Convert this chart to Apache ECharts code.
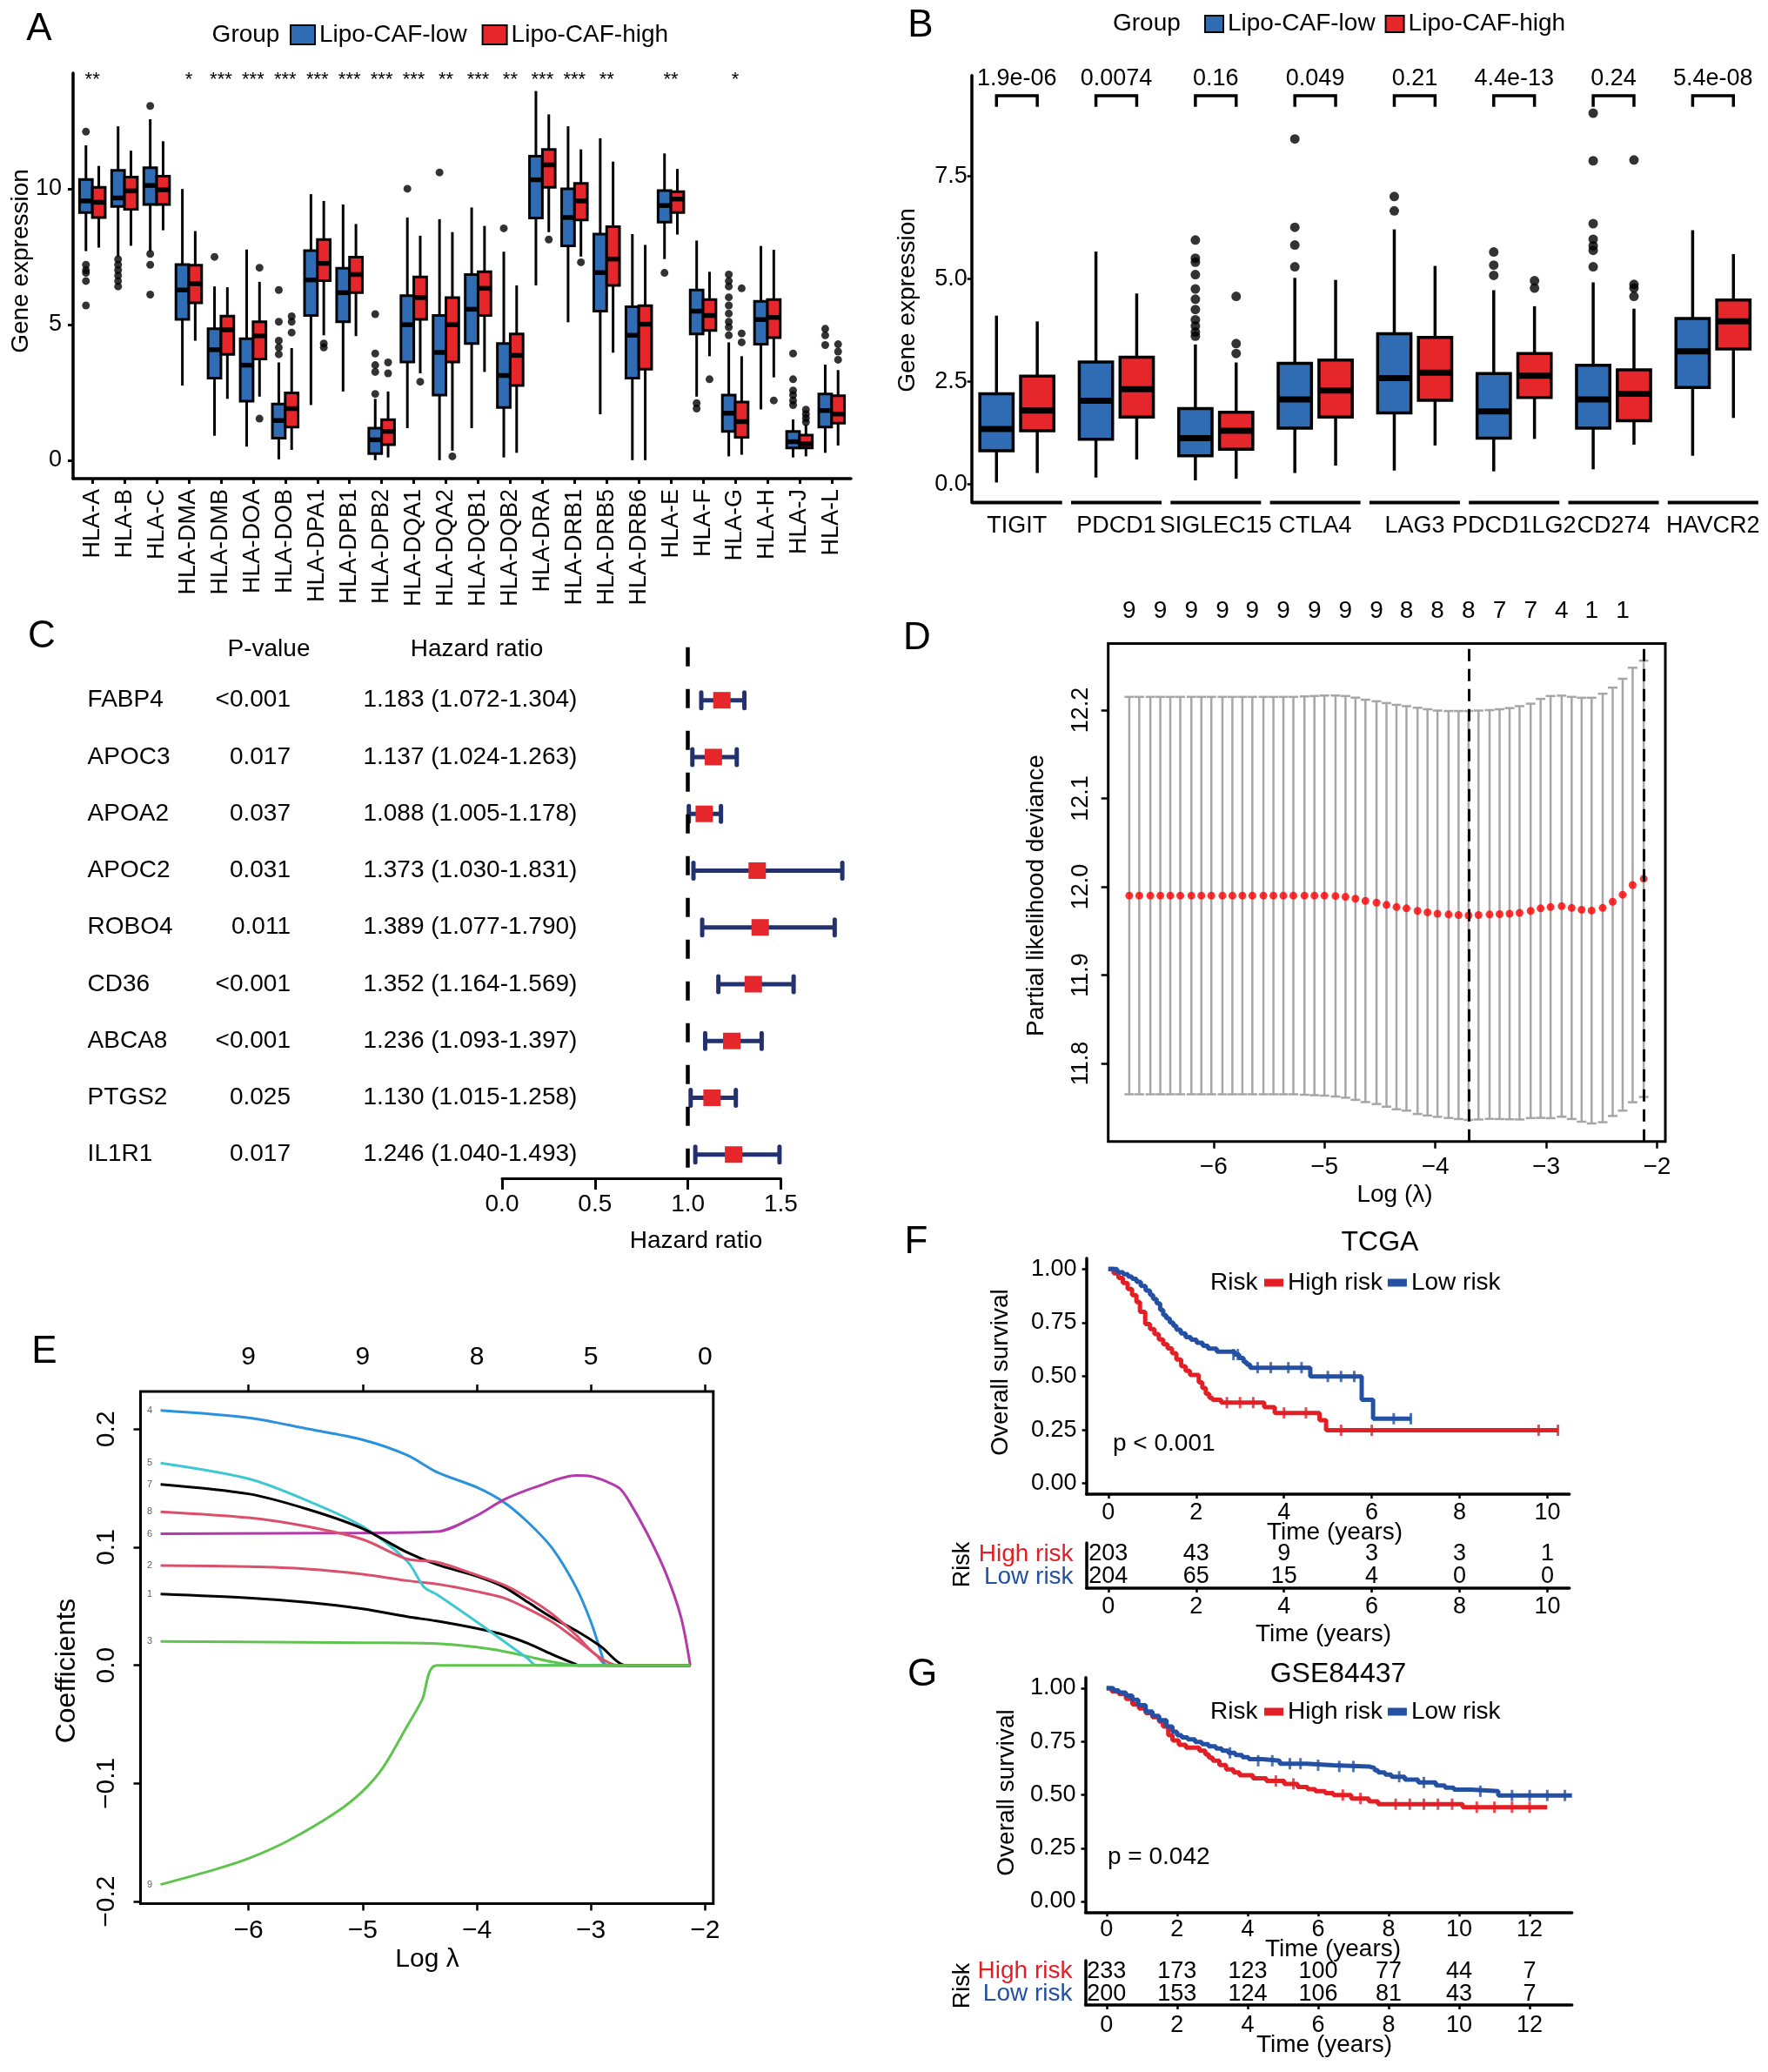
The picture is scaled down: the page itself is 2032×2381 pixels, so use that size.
<!DOCTYPE html>
<html>
<head>
<meta charset="utf-8">
<script src="https://cdn.jsdelivr.net/npm/echarts@6/dist/echarts.min.js"></script>
<style>
  html, body { margin: 0; padding: 0; background: #fff; }
  #chart { width: 2032px; height: 2381px; }
</style>
</head>
<body>
<div id="chart"></div>
<script>
// ---------- A: HLA gene expression ----------
const hlaGenes = ['HLA-A', 'HLA-B', 'HLA-C', 'HLA-DMA', 'HLA-DMB', 'HLA-DOA', 'HLA-DOB', 'HLA-DPA1',
  'HLA-DPB1', 'HLA-DPB2', 'HLA-DQA1', 'HLA-DQA2', 'HLA-DQB1', 'HLA-DQB2', 'HLA-DRA', 'HLA-DRB1',
  'HLA-DRB5', 'HLA-DRB6', 'HLA-E', 'HLA-F', 'HLA-G', 'HLA-H', 'HLA-J', 'HLA-L'];
// [lower whisker, Q1, median, Q3, upper whisker]
const hlaLow = [
  [7.7, 9.12, 9.55, 10.34, 11.6], [7.5, 9.35, 9.66, 10.68, 12.3], [7.7, 9.42, 10.12, 10.77, 12.56],
  [2.75, 5.19, 6.27, 7.21, 9.99], [0.9, 3.02, 4.07, 4.84, 6.4], [0.5, 2.17, 3.5, 4.47, 7.76],
  [0.03, 0.81, 1.46, 2.07, 3.6], [2.03, 5.33, 6.64, 7.72, 9.8], [2.53, 5.1, 6.17, 7.07, 9.42],
  [0.0, 0.24, 0.75, 1.18, 2.26], [1.18, 3.62, 4.99, 6.06, 8.94], [0.0, 2.4, 3.97, 5.33, 8.88],
  [1.18, 4.3, 5.56, 6.84, 9.31], [0.1, 1.94, 3.12, 4.3, 7.68], [6.44, 8.92, 10.33, 11.2, 13.6],
  [5.08, 7.9, 8.94, 10.0, 12.3], [1.69, 5.49, 6.91, 8.33, 11.86], [0.0, 3.02, 4.6, 5.65, 8.33],
  [7.41, 8.77, 9.38, 9.93, 11.3], [2.34, 4.65, 5.49, 6.27, 8.09], [0.14, 1.06, 1.73, 2.4, 4.34],
  [1.87, 4.27, 5.18, 5.85, 7.89], [0.1, 0.45, 0.68, 1.06, 1.5], [0.27, 1.22, 1.83, 2.44, 3.52]
];
const hlaHigh = [
  [7.83, 8.94, 9.5, 10.05, 10.84], [7.9, 9.24, 9.92, 10.43, 11.4], [8.47, 9.42, 9.96, 10.46, 11.75],
  [4.4, 5.8, 6.5, 7.18, 8.44], [2.26, 3.9, 4.8, 5.31, 6.37], [2.34, 3.73, 4.58, 5.1, 6.57],
  [0.38, 1.22, 1.9, 2.48, 4.13], [4.6, 6.61, 7.25, 8.13, 9.55], [4.57, 6.17, 6.84, 7.48, 8.7],
  [0.1, 0.57, 1.06, 1.49, 2.53], [3.2, 5.19, 5.99, 6.75, 8.27], [0.35, 3.62, 4.99, 5.99, 8.4],
  [3.25, 5.33, 6.33, 6.94, 8.63], [0.27, 2.75, 3.86, 4.65, 6.44], [8.4, 10.05, 10.88, 11.45, 12.74],
  [7.5, 8.85, 9.55, 10.2, 11.45], [3.96, 6.44, 7.41, 8.6, 11.0], [0.0, 3.35, 5.01, 5.69, 7.93],
  [8.31, 9.12, 9.62, 9.89, 10.73], [3.83, 4.78, 5.33, 5.92, 6.94], [0.2, 0.84, 1.42, 2.14, 3.83],
  [3.05, 4.51, 5.26, 5.92, 7.75], [0.14, 0.45, 0.6, 0.92, 1.3], [0.54, 1.36, 1.7, 2.37, 3.32]
];
const hlaLowOut = [
  [12.1, 7.2, 7.0, 6.9, 6.6, 5.7], [7.4, 7.2, 7.0, 6.8, 6.6, 6.4], [13.05, 7.6, 7.2, 6.1], [], [7.49], [],
  [6.27, 5.1, 4.4, 4.15, 3.9], [], [], [5.38, 3.93, 3.5, 3.25, 2.44], [10.0], [10.6], [], [8.54], [], [],
  [], [], [6.9], [2.1, 1.9], [6.84, 6.6, 6.4, 6.0, 5.7, 5.4, 5.1, 4.9, 4.6], [],
  [3.93, 2.98, 2.57, 2.4, 2.2, 2.03], [4.84, 4.6, 4.24]
];
const hlaHighOut = [
  [], [], [], [], [], [7.09, 1.53], [5.3, 5.1, 4.7], [4.3, 4.15], [], [3.6, 3.2], [2.89], [0.14], [], [],
  [8.13], [7.29], [], [], [], [2.98], [6.33, 4.67, 4.34], [2.2], [1.86, 1.7, 1.55, 1.4], [4.27, 4.0, 3.7]
];
const hlaStars = ['**', '', '', '*', '***', '***', '***', '***', '***', '***', '***', '**', '***', '**',
  '***', '***', '**', '', '**', '', '*', '', '', ''];

// ---------- B: immune checkpoint genes ----------
const icGenes = ['TIGIT', 'PDCD1', 'SIGLEC15', 'CTLA4', 'LAG3', 'PDCD1LG2', 'CD274', 'HAVCR2'];
const icPvalues = ['1.9e-06', '0.0074', '0.16', '0.049', '0.21', '4.4e-13', '0.24', '5.4e-08'];
const icLow = [
  [0.04, 0.81, 1.34, 2.2, 4.1], [0.16, 1.09, 2.03, 2.97, 5.66], [0.09, 0.69, 1.12, 1.84, 3.4],
  [0.27, 1.36, 2.06, 2.94, 5.02], [0.33, 1.73, 2.58, 3.66, 6.2], [0.31, 1.12, 1.77, 2.69, 4.72],
  [0.36, 1.36, 2.06, 2.89, 4.91], [0.69, 2.35, 3.23, 4.03, 6.18]
];
const icHigh = [
  [0.27, 1.3, 1.79, 2.63, 3.96], [0.6, 1.63, 2.31, 3.09, 4.64], [0.13, 0.85, 1.3, 1.75, 2.96],
  [0.45, 1.63, 2.28, 3.02, 4.97], [0.94, 2.04, 2.71, 3.57, 5.31], [1.1, 2.11, 2.64, 3.18, 4.33],
  [0.96, 1.54, 2.2, 2.78, 4.27], [1.61, 3.29, 3.96, 4.48, 5.6]
];
const icLowOut = [
  [], [], [5.94, 5.5, 5.4, 5.1, 4.75, 4.5, 4.25, 4.0, 3.85, 3.7, 3.6], [8.4, 6.25, 5.82, 5.29],
  [7.0, 6.65], [5.65, 5.33, 5.08], [9.03, 7.87, 6.34, 5.96, 5.8, 5.69, 5.29], []
];
const icHighOut = [[], [], [4.57, 3.42, 3.18], [], [], [4.95, 4.77], [7.89, 4.86, 4.77, 4.57], []];

// ---------- C: univariate Cox ----------
const coxGenes = ['FABP4', 'APOC3', 'APOA2', 'APOC2', 'ROBO4', 'CD36', 'ABCA8', 'PTGS2', 'IL1R1'];
const coxP = ['<0.001', '0.017', '0.037', '0.031', '0.011', '<0.001', '<0.001', '0.025', '0.017'];
const coxHR = [1.183, 1.137, 1.088, 1.373, 1.389, 1.352, 1.236, 1.130, 1.246];
const coxLo = [1.072, 1.024, 1.005, 1.030, 1.077, 1.164, 1.093, 1.015, 1.040];
const coxHi = [1.304, 1.263, 1.178, 1.831, 1.790, 1.569, 1.397, 1.258, 1.493];

// ---------- D: LASSO cross-validation ----------
const logLambda = [-6.76, -6.67, -6.57, -6.48, -6.39, -6.30, -6.20, -6.11, -6.02, -5.92,
  -5.83, -5.74, -5.65, -5.55, -5.46, -5.37, -5.28, -5.18, -5.09, -5.00,
  -4.90, -4.81, -4.72, -4.63, -4.53, -4.44, -4.35, -4.26, -4.16, -4.07,
  -3.98, -3.88, -3.79, -3.70, -3.61, -3.51, -3.42, -3.33, -3.24, -3.14,
  -3.05, -2.96, -2.86, -2.77, -2.68, -2.59, -2.49, -2.40, -2.31, -2.22, -2.12];
const cvMean = [11.990, 11.990, 11.990, 11.990, 11.990, 11.990, 11.990, 11.990, 11.990, 11.990,
  11.990, 11.990, 11.990, 11.990, 11.990, 11.990, 11.990, 11.990, 11.990, 11.990,
  11.9895, 11.9886, 11.9864, 11.984, 11.982, 11.9795, 11.977, 11.9755, 11.9727, 11.971,
  11.9695, 11.9686, 11.968, 11.9675, 11.968, 11.9686, 11.969, 11.9695, 11.9705, 11.9727,
  11.9755, 11.977, 11.978, 11.976, 11.974, 11.973, 11.976, 11.983, 11.991, 12.002, 12.009];
const cvSd = [0.225, 0.225, 0.225, 0.225, 0.225, 0.225, 0.225, 0.225, 0.225, 0.225,
  0.225, 0.225, 0.225, 0.225, 0.225, 0.225, 0.225, 0.2255, 0.226, 0.2265,
  0.227, 0.2274, 0.2277, 0.2278, 0.228, 0.2285, 0.229, 0.229, 0.230, 0.230,
  0.230, 0.2304, 0.231, 0.2315, 0.2315, 0.2314, 0.232, 0.2328, 0.234, 0.2346,
  0.2372, 0.239, 0.2384, 0.239, 0.240, 0.241, 0.2426, 0.2425, 0.2445, 0.246, 0.247];
const nzeroLabels = ['9', '9', '9', '9', '9', '9', '9', '9', '9', '8', '8', '8', '7', '7', '4', '1', '1'];
const lambdaMinLog = -3.70;
const lambda1seLog = -2.12;

// ---------- E: coefficient paths ----------
const coef1 = [[-6.77, 0.0603], [-6, 0.057], [-5.49, 0.0533], [-5, 0.0478], [-4.61, 0.0412], [-4.35, 0.0375],
  [-4, 0.0312], [-3.76, 0.0257], [-3.55, 0.0184], [-3.34, 0.0092], [-3.13, 0.0007], [-3.11, 0], [-2.13, 0]];
const coef2 = [[-6.77, 0.0846], [-6, 0.0835], [-5.49, 0.0816], [-5, 0.0772], [-4.61, 0.0717], [-4.35, 0.0688],
  [-4, 0.0625], [-3.76, 0.057], [-3.55, 0.0478], [-3.34, 0.0368], [-3.13, 0.022], [-2.96, 0.0092], [-2.85, 0], [-2.13, 0]];
const coef3 = [[-6.77, 0.0202], [-5, 0.0191], [-4.35, 0.0184], [-4, 0.0154], [-3.76, 0.0118], [-3.55, 0.0074],
  [-3.34, 0.0029], [-3.13, 0], [-2.13, 0]];
const coef4 = [[-6.77, 0.2158], [-6, 0.2096], [-5.49, 0.2004], [-5, 0.191], [-4.61, 0.178], [-4.35, 0.1636],
  [-4, 0.1507], [-3.76, 0.138], [-3.55, 0.121], [-3.34, 0.0993], [-3.13, 0.066], [-3, 0.0368], [-2.9, 0.0074],
  [-2.87, 0], [-2.13, 0]];
const coef5 = [[-6.77, 0.1713], [-6, 0.158], [-5.49, 0.1397], [-5, 0.1176], [-4.61, 0.0882], [-4.46, 0.066],
  [-4.35, 0.060], [-4, 0.0368], [-3.76, 0.0202], [-3.55, 0.0055], [-3.48, 0], [-2.13, 0]];
const coef6 = [[-6.77, 0.1114], [-5, 0.1121], [-4.35, 0.1132], [-4, 0.1268], [-3.76, 0.1404], [-3.47, 0.1515],
  [-3.13, 0.1607], [-3.0, 0.16], [-2.86, 0.1555], [-2.75, 0.15], [-2.67, 0.1397], [-2.5, 0.1103],
  [-2.34, 0.0772], [-2.21, 0.0404], [-2.13, 0]];
const coef7 = [[-6.77, 0.1533], [-6, 0.1452], [-5.49, 0.1324], [-5, 0.1158], [-4.61, 0.0956], [-4.35, 0.0853],
  [-4, 0.0754], [-3.76, 0.0662], [-3.55, 0.0533], [-3.34, 0.0404], [-3.13, 0.0294], [-2.92, 0.0165],
  [-2.69, 0], [-2.13, 0]];
const coef8 = [[-6.77, 0.1301], [-6, 0.125], [-5.49, 0.1176], [-5, 0.1066], [-4.61, 0.090], [-4.35, 0.0875],
  [-4, 0.0765], [-3.76, 0.068], [-3.55, 0.057], [-3.34, 0.0434], [-3.13, 0.0257], [-2.96, 0.0092],
  [-2.76, 0], [-2.13, 0]];
const coef9 = [[-6.77, -0.1857], [-6.29, -0.1728], [-6, -0.1636], [-5.66, -0.1489], [-5.24, -0.125],
  [-5, -0.1066], [-4.82, -0.0864], [-4.61, -0.0515], [-4.48, -0.0294], [-4.35, 0], [-2.13, 0]];
const coefTopLabels = ['9', '9', '8', '5', '0'];

// ---------- F: TCGA survival ----------
const kmTcgaHigh = [[0, 1.0], [0.12, 0.98], [0.23, 0.959], [0.33, 0.935], [0.44, 0.907], [0.54, 0.878],
  [0.64, 0.846], [0.72, 0.80], [0.84, 0.744], [0.95, 0.72], [1.05, 0.697], [1.15, 0.672], [1.25, 0.649],
  [1.35, 0.63], [1.45, 0.608], [1.55, 0.578], [1.66, 0.547], [1.76, 0.525], [1.86, 0.506], [2.06, 0.472],
  [2.14, 0.445], [2.22, 0.418], [2.30, 0.40], [2.37, 0.39], [2.57, 0.377], [3.55, 0.356], [3.79, 0.329],
  [4.81, 0.295], [4.96, 0.248], [10.24, 0.248]];
const kmTcgaLow = [[0, 1.0], [0.2, 0.985], [0.34, 0.976], [0.45, 0.965], [0.54, 0.955], [0.64, 0.94],
  [0.74, 0.921], [0.85, 0.9], [0.95, 0.88], [1.02, 0.86], [1.10, 0.84], [1.18, 0.81], [1.25, 0.785],
  [1.32, 0.77], [1.40, 0.751], [1.48, 0.735], [1.55, 0.717], [1.65, 0.70], [1.76, 0.683], [1.88, 0.67],
  [2.01, 0.656], [2.15, 0.642], [2.27, 0.629], [2.47, 0.615], [2.88, 0.601], [2.98, 0.585], [3.08, 0.567],
  [3.15, 0.555], [3.23, 0.54], [4.6, 0.499], [5.77, 0.39], [6.03, 0.302], [6.89, 0.302]];
const censorTcgaHigh = [[2.7, 0.377], [3.0, 0.377], [3.3, 0.377], [4.0, 0.329], [4.5, 0.329], [5.3, 0.248],
  [6.0, 0.248], [9.8, 0.248], [10.24, 0.248]];
const censorTcgaLow = [[2.85, 0.601], [2.95, 0.601], [3.4, 0.54], [3.7, 0.54], [4.1, 0.54], [4.4, 0.54],
  [5.0, 0.499], [5.3, 0.499], [5.6, 0.499], [6.5, 0.302], [6.89, 0.302]];
const riskTimesTcga = [0, 2, 4, 6, 8, 10];
const riskHighTcga = [203, 43, 9, 3, 3, 1];
const riskLowTcga = [204, 65, 15, 4, 0, 0];

// ---------- G: GSE84437 survival ----------
const kmGseHigh = [[0, 1.0], [0.15, 0.985], [0.35, 0.973], [0.55, 0.95], [0.73, 0.925], [0.92, 0.905],
  [1.11, 0.884], [1.3, 0.864], [1.49, 0.844], [1.6, 0.82], [1.75, 0.78], [1.87, 0.755], [2.05, 0.735],
  [2.25, 0.721], [2.63, 0.707], [2.8, 0.69], [2.9, 0.675], [3.01, 0.66], [3.2, 0.64], [3.39, 0.619],
  [3.6, 0.605], [3.77, 0.592], [4.15, 0.578], [4.53, 0.565], [5.04, 0.551], [5.42, 0.537], [5.7, 0.527],
  [5.92, 0.517], [6.2, 0.508], [6.43, 0.499], [6.94, 0.483], [7.44, 0.469], [7.7, 0.456], [10.1, 0.442],
  [12.5, 0.442]];
const kmGseLow = [[0, 1.0], [0.2, 0.99], [0.35, 0.98], [0.55, 0.965], [0.73, 0.946], [0.9, 0.92],
  [1.11, 0.891], [1.3, 0.87], [1.49, 0.85], [1.7, 0.82], [1.87, 0.796], [2.0, 0.78], [2.13, 0.769],
  [2.3, 0.76], [2.51, 0.748], [2.7, 0.738], [2.89, 0.728], [3.1, 0.717], [3.27, 0.707], [3.45, 0.697],
  [3.65, 0.687], [3.85, 0.677], [4.03, 0.667], [4.41, 0.66], [4.91, 0.646], [5.67, 0.639], [6.43, 0.633],
  [7.44, 0.626], [7.6, 0.615], [7.7, 0.605], [7.9, 0.595], [8.08, 0.585], [8.46, 0.571], [8.84, 0.558],
  [9.34, 0.544], [9.6, 0.534], [9.85, 0.524], [10.35, 0.517], [11.11, 0.497], [13.2, 0.497]];
const censorGseHigh = [[4.8, 0.565], [5.3, 0.551], [6.7, 0.499], [7.2, 0.483], [8.2, 0.456], [8.6, 0.456],
  [9.0, 0.456], [9.4, 0.456], [9.8, 0.456], [10.5, 0.442], [11.0, 0.442], [11.5, 0.442], [12.0, 0.442]];
const censorGseLow = [[3.5, 0.697], [4.3, 0.66], [4.7, 0.66], [5.2, 0.646], [5.5, 0.646], [6.0, 0.639],
  [6.6, 0.633], [7.0, 0.633], [8.3, 0.585], [9.0, 0.558], [10.6, 0.517], [11.5, 0.497], [12.0, 0.497],
  [12.5, 0.497], [13.0, 0.497]];
const riskTimesGse = [0, 2, 4, 6, 8, 10, 12];
const riskHighGse = [233, 173, 123, 100, 77, 44, 7];
const riskLowGse = [200, 153, 124, 106, 81, 43, 7];
const riskGroups = ['High risk', 'Low risk'];

// ---------- styling ----------
const FONT = '"Liberation Sans", Arial, Helvetica, sans-serif';
const BOX_BLUE = '#2F6CB4';
const BOX_RED = '#E5262B';
const KM_RED = '#E31E24';
const KM_BLUE = '#2350A3';
const NAVY = '#23316F';
const GLM_COLS = ['#000000', '#DA506A', '#5EC44E', '#2A92DC', '#40C8D2', '#B23AAA'];
const MINUS = '\u2212';

function txt(text, x, y, size, opt) {
  opt = opt || {};
  const align = opt.align || 'center';
  return {
    type: 'text', x: x, y: y, rotation: opt.rot || 0, silent: true,
    style: {
      text: text, fontSize: size, fontFamily: FONT, fill: opt.color || '#000',
      align: align, verticalAlign: 'middle', textAlign: align, textVerticalAlign: 'middle'
    }
  };
}

function textEl(text, x, y, size, align, color) {
  return { type: 'text', x: x, y: y, style: { text: text, fontSize: size, fontFamily: FONT, fill: color || '#000',
    align: align, verticalAlign: 'middle', textAlign: align, textVerticalAlign: 'middle' } };
}

function boxRenderer(offset, width, fill, lw, medLw) {
  return function (params, api) {
    const i = api.value(0);
    const c = v => api.coord([i + offset, v]);
    const lo = c(api.value(1)), q1 = c(api.value(2)), md = c(api.value(3));
    const q3 = c(api.value(4)), hi = c(api.value(5));
    const w = api.size([width, 0])[0];
    const x = md[0];
    return {
      type: 'group', children: [
        { type: 'line', shape: { x1: x, y1: hi[1], x2: x, y2: q3[1] }, style: { stroke: '#000', lineWidth: lw } },
        { type: 'line', shape: { x1: x, y1: q1[1], x2: x, y2: lo[1] }, style: { stroke: '#000', lineWidth: lw } },
        { type: 'rect', shape: { x: x - w / 2, y: q3[1], width: w, height: q1[1] - q3[1] },
          style: { fill: fill, stroke: '#000', lineWidth: lw } },
        { type: 'line', shape: { x1: x - w / 2, y1: md[1], x2: x + w / 2, y2: md[1] },
          style: { stroke: '#000', lineWidth: medLw } }
      ]
    };
  };
}

function outlierPoints(outs, offset) {
  const pts = [];
  outs.forEach((arr, i) => arr.forEach(v => pts.push([i + offset, v])));
  return pts;
}

function minusFmt(digits) {
  return v => (v < 0 ? MINUS : '') + Math.abs(v).toFixed(digits);
}

const blackLine = (w) => ({ show: true, onZero: false, lineStyle: { color: '#000', width: w } });
const noLine = { show: false, onZero: false };
const noSplit = { show: false };

const chart = echarts.init(document.getElementById('chart'));

const hlaIdx = hlaGenes.map((g, i) => i);
const icIdx = icGenes.map((g, i) => i);
const nzeroAt = logLambda.filter((v, i) => i % 3 === 0);

// B layout helpers (in data units)
const icDodge = 0.205;
const bracketTop = 9.456;
const bracketLeg = 9.186;
const pLabelY = 9.86;
const icYMin = -0.447;
const starY = 14.0;

const option = {
  animation: false,
  backgroundColor: '#fff',
  textStyle: { fontFamily: FONT },
  grid: [
    { left: 84, top: 84, width: 894, height: 466 },                 // A
    { left: 1116.7, top: 86.7, width: 888.7, height: 490.7 },       // B
    { left: 577, top: 743.8, width: 320.4, height: 610.2 },         // C
    { left: 1273.7, top: 739.4, width: 640.3, height: 572.3, show: true, borderColor: '#000', borderWidth: 3 }, // D
    { left: 161.5, top: 1599, width: 658.3, height: 588.5, show: true, borderColor: '#000', borderWidth: 3 },   // E
    { left: 1248.6, top: 1446, width: 555.1, height: 271 },         // F
    { left: 1248.6, top: 1773, width: 555.1, height: 52 },          // F table
    { left: 1247.5, top: 1927.75, width: 559.2, height: 269.5 },    // G
    { left: 1247.5, top: 2253, width: 559.2, height: 51 }           // G table
  ],
  xAxis: [
    { gridIndex: 0, type: 'value', min: -0.6, max: 23.6, axisLine: blackLine(3.5), splitLine: noSplit,
      axisTick: { show: true, customValues: hlaIdx, length: 6, lineStyle: { color: '#000', width: 3 } },
      axisLabel: { customValues: hlaIdx, rotate: 90, margin: 12, fontSize: 27, color: '#000',
        formatter: v => hlaGenes[Math.round(v)] } },
    { gridIndex: 1, type: 'value', min: -0.455, max: 7.32, axisLine: noLine, splitLine: noSplit,
      axisTick: { show: false },
      axisLabel: { customValues: icIdx, margin: 14, fontSize: 27, color: '#000',
        formatter: v => icGenes[Math.round(v)] } },
    { gridIndex: 2, type: 'value', min: 0, max: 1.5, interval: 0.5, axisLine: blackLine(3), splitLine: noSplit,
      axisTick: { show: true, length: 13, lineStyle: { color: '#000', width: 3 } },
      axisLabel: { margin: 16, fontSize: 28, color: '#000', formatter: v => v.toFixed(1) } },
    { gridIndex: 3, type: 'value', position: 'bottom', min: -6.95, max: -1.925, axisLine: noLine,
      splitLine: noSplit,
      axisTick: { show: true, customValues: [-6, -5, -4, -3, -2], length: 8, lineStyle: { color: '#000', width: 2.5 } },
      axisLabel: { customValues: [-6, -5, -4, -3, -2], margin: 16, fontSize: 28, color: '#000', formatter: minusFmt(0) } },
    { gridIndex: 3, type: 'value', position: 'top', min: -6.95, max: -1.925, axisLine: noLine,
      splitLine: noSplit, axisTick: { show: false },
      axisLabel: { customValues: nzeroAt, margin: 23, fontSize: 28, color: '#000',
        formatter: v => nzeroLabels[nzeroAt.findIndex(a => Math.abs(a - v) < 1e-6)] } },
    { gridIndex: 4, type: 'value', position: 'bottom', min: -6.946, max: -1.928, axisLine: noLine,
      splitLine: noSplit,
      axisTick: { show: true, customValues: [-6, -5, -4, -3, -2], length: 8, lineStyle: { color: '#000', width: 2.5 } },
      axisLabel: { customValues: [-6, -5, -4, -3, -2], margin: 16, fontSize: 30, color: '#000', formatter: minusFmt(0) } },
    { gridIndex: 4, type: 'value', position: 'top', min: -6.946, max: -1.928, axisLine: noLine,
      splitLine: noSplit,
      axisTick: { show: true, customValues: [-6, -5, -4, -3, -2], length: 8, lineStyle: { color: '#000', width: 2.5 } },
      axisLabel: { customValues: [-6, -5, -4, -3, -2], margin: 24, fontSize: 30, color: '#000',
        formatter: v => coefTopLabels[Math.round(v) + 6] } },
    { gridIndex: 5, type: 'value', min: -0.5, max: 10.5, axisLine: blackLine(3.5), splitLine: noSplit,
      axisTick: { show: true, customValues: riskTimesTcga, length: 5, lineStyle: { color: '#000', width: 2.5 } },
      axisLabel: { customValues: riskTimesTcga, margin: 8, fontSize: 27, color: '#000' } },
    { gridIndex: 6, type: 'value', min: -0.5, max: 10.5, axisLine: blackLine(3.5), splitLine: noSplit,
      axisTick: { show: true, customValues: riskTimesTcga, length: 5, lineStyle: { color: '#000', width: 2.5 } },
      axisLabel: { customValues: riskTimesTcga, margin: 8, fontSize: 27, color: '#000' } },
    { gridIndex: 7, type: 'value', min: -0.6, max: 13.2, axisLine: blackLine(3.5), splitLine: noSplit,
      axisTick: { show: true, customValues: riskTimesGse, length: 5, lineStyle: { color: '#000', width: 2.5 } },
      axisLabel: { customValues: riskTimesGse, margin: 7, fontSize: 27, color: '#000' } },
    { gridIndex: 8, type: 'value', min: -0.6, max: 13.2, axisLine: blackLine(3.5), splitLine: noSplit,
      axisTick: { show: true, customValues: riskTimesGse, length: 5, lineStyle: { color: '#000', width: 2.5 } },
      axisLabel: { customValues: riskTimesGse, margin: 10, fontSize: 27, color: '#000' } }
  ],
  yAxis: [
    { gridIndex: 0, type: 'value', min: -0.68, max: 14.26, axisLine: blackLine(3.5), splitLine: noSplit,
      axisTick: { show: true, customValues: [0, 5, 10], length: 6, lineStyle: { color: '#000', width: 3 } },
      axisLabel: { customValues: [0, 5, 10], margin: 13, fontSize: 27, color: '#000' } },
    { gridIndex: 1, type: 'value', min: icYMin, max: 9.947, axisLine: blackLine(3.5), splitLine: noSplit,
      axisTick: { show: true, customValues: [0, 2.5, 5, 7.5], length: 5, lineStyle: { color: '#000', width: 2.5 } },
      axisLabel: { customValues: [0, 2.5, 5, 7.5], margin: 5, fontSize: 27, color: '#000', formatter: v => v.toFixed(1) } },
    { gridIndex: 2, type: 'value', min: -0.933, max: 8.418, inverse: true, show: false, axisLine: noLine },
    { gridIndex: 3, type: 'value', min: 11.7116, max: 12.2755, axisLine: noLine, splitLine: noSplit,
      axisTick: { show: true, customValues: [11.8, 11.9, 12.0, 12.1, 12.2], length: 8, lineStyle: { color: '#000', width: 2.5 } },
      axisLabel: { customValues: [11.8, 11.9, 12.0, 12.1, 12.2], rotate: 90, margin: 18, fontSize: 27, color: '#000',
        formatter: v => v.toFixed(1) } },
    { gridIndex: 4, type: 'value', min: -0.2018, max: 0.2319, axisLine: noLine, splitLine: noSplit,
      axisTick: { show: true, customValues: [-0.2, -0.1, 0, 0.1, 0.2], length: 8, lineStyle: { color: '#000', width: 2.5 } },
      axisLabel: { customValues: [-0.2, -0.1, 0, 0.1, 0.2], rotate: 90, margin: 24, fontSize: 30, color: '#000',
        formatter: minusFmt(1) } },
    { gridIndex: 5, type: 'value', min: -0.05, max: 1.05, axisLine: blackLine(3.5), splitLine: noSplit,
      axisTick: { show: true, customValues: [0, 0.25, 0.5, 0.75, 1], length: 5, lineStyle: { color: '#000', width: 2.5 } },
      axisLabel: { customValues: [0, 0.25, 0.5, 0.75, 1], margin: 11, fontSize: 27, color: '#000', formatter: v => v.toFixed(2) } },
    { gridIndex: 6, type: 'value', min: -0.5, max: 1.5, inverse: true, axisLine: blackLine(3.5), splitLine: noSplit,
      axisTick: { show: false }, axisLabel: { show: false } },
    { gridIndex: 7, type: 'value', min: -0.05, max: 1.05, axisLine: blackLine(3.5), splitLine: noSplit,
      axisTick: { show: true, customValues: [0, 0.25, 0.5, 0.75, 1], length: 5, lineStyle: { color: '#000', width: 2.5 } },
      axisLabel: { customValues: [0, 0.25, 0.5, 0.75, 1], margin: 11, fontSize: 27, color: '#000', formatter: v => v.toFixed(2) } },
    { gridIndex: 8, type: 'value', min: -0.5, max: 1.5, inverse: true, axisLine: blackLine(3.5), splitLine: noSplit,
      axisTick: { show: false }, axisLabel: { show: false } }
  ],
  legend: [
    { left: 333, top: 26, padding: 0, itemWidth: 28, itemHeight: 22, itemGap: 17, selectedMode: false,
      icon: 'rect', itemStyle: { borderColor: '#000', borderWidth: 2 },
      textStyle: { fontSize: 28, color: '#000', fontFamily: FONT },
      data: ['Lipo-CAF-low', 'Lipo-CAF-high'] },
    { left: 1384, top: 13.5, padding: 0, itemWidth: 21, itemHeight: 19, itemGap: 11, selectedMode: false,
      icon: 'rect', itemStyle: { borderColor: '#000', borderWidth: 2 },
      textStyle: { fontSize: 28, color: '#000', fontFamily: FONT },
      data: ['Lipo-CAF-low', 'Lipo-CAF-high'] },
    { left: 1453, top: 1460, padding: 0, itemWidth: 22, itemHeight: 9, itemGap: 6, selectedMode: false,
      icon: 'rect', textStyle: { fontSize: 28, color: '#000', fontFamily: FONT },
      data: riskGroups },
    { left: 1453, top: 1953, padding: 0, itemWidth: 22, itemHeight: 9, itemGap: 6, selectedMode: false,
      icon: 'rect', textStyle: { fontSize: 28, color: '#000', fontFamily: FONT },
      data: riskGroups }
  ],
  series: []
};

const S = option.series;

// ----- A -----
S.push({ type: 'custom', name: 'Lipo-CAF-low', xAxisIndex: 0, yAxisIndex: 0, itemStyle: { color: BOX_BLUE },
  renderItem: boxRenderer(-0.2, 0.4, BOX_BLUE, 3, 5.5), data: hlaLow.map((d, i) => [i].concat(d)),
  encode: { x: 0, y: [1, 2, 3, 4, 5] } });
S.push({ type: 'custom', name: 'Lipo-CAF-high', xAxisIndex: 0, yAxisIndex: 0, itemStyle: { color: BOX_RED },
  renderItem: boxRenderer(0.2, 0.4, BOX_RED, 3, 5.5), data: hlaHigh.map((d, i) => [i].concat(d)),
  encode: { x: 0, y: [1, 2, 3, 4, 5] } });
S.push({ type: 'scatter', xAxisIndex: 0, yAxisIndex: 0, symbolSize: 9, itemStyle: { color: '#000' },
  data: outlierPoints(hlaLowOut, -0.2).concat(outlierPoints(hlaHighOut, 0.2)), silent: true });
S.push({ type: 'custom', xAxisIndex: 0, yAxisIndex: 0, silent: true, clip: false,
  data: hlaStars.map((s, i) => [i, starY]),
  renderItem: (params, api) => {
    const p = api.coord([api.value(0), api.value(1)]);
    return textEl(hlaStars[params.dataIndex], p[0], p[1], 22, 'center');
  } });

// ----- B -----
S.push({ type: 'custom', name: 'Lipo-CAF-low', xAxisIndex: 1, yAxisIndex: 1, itemStyle: { color: BOX_BLUE },
  renderItem: boxRenderer(-icDodge, 0.335, BOX_BLUE, 3.5, 7), data: icLow.map((d, i) => [i].concat(d)),
  encode: { x: 0, y: [1, 2, 3, 4, 5] } });
S.push({ type: 'custom', name: 'Lipo-CAF-high', xAxisIndex: 1, yAxisIndex: 1, itemStyle: { color: BOX_RED },
  renderItem: boxRenderer(icDodge, 0.335, BOX_RED, 3.5, 7), data: icHigh.map((d, i) => [i].concat(d)),
  encode: { x: 0, y: [1, 2, 3, 4, 5] } });
S.push({ type: 'scatter', xAxisIndex: 1, yAxisIndex: 1, symbolSize: 11, itemStyle: { color: '#000' }, silent: true,
  data: outlierPoints(icLowOut, -icDodge).concat(outlierPoints(icHighOut, icDodge)) });
S.push({ type: 'custom', xAxisIndex: 1, yAxisIndex: 1, silent: true, clip: false,
  data: icIdx.map(i => [i]),
  renderItem: (params, api) => {
    const i = api.value(0);
    const a = api.coord([i - icDodge, bracketLeg]);
    const b = api.coord([i - icDodge, bracketTop]);
    const c = api.coord([i + icDodge, bracketTop]);
    const d = api.coord([i + icDodge, bracketLeg]);
    const t = api.coord([i, pLabelY]);
    const s0 = api.coord([i - 0.455, icYMin]);
    const s1 = api.coord([i + 0.455, icYMin]);
    return { type: 'group', children: [
      { type: 'polyline', shape: { points: [a, b, c, d] }, style: { stroke: '#000', lineWidth: 3.5, fill: null } },
      textEl(icPvalues[params.dataIndex], t[0], t[1], 27, 'center'),
      { type: 'line', shape: { x1: s0[0], y1: s0[1], x2: s1[0], y2: s1[1] }, style: { stroke: '#000', lineWidth: 4 } }
    ] };
  } });

// ----- C -----
S.push({ type: 'custom', xAxisIndex: 2, yAxisIndex: 2, silent: true, clip: false,
  data: coxHR.map((hr, i) => [hr, i, coxLo[i], coxHi[i]]),
  renderItem: (params, api) => {
    const i = params.dataIndex;
    const row = api.value(1);
    const p = api.coord([api.value(0), row]);
    const lo = api.coord([api.value(2), row]);
    const hi = api.coord([api.value(3), row]);
    const y = p[1];
    return { type: 'group', children: [
      { type: 'line', shape: { x1: lo[0], y1: y, x2: hi[0], y2: y }, style: { stroke: NAVY, lineWidth: 5 } },
      { type: 'line', shape: { x1: lo[0], y1: y - 9, x2: lo[0], y2: y + 9 }, style: { stroke: NAVY, lineWidth: 5, lineCap: 'round' } },
      { type: 'line', shape: { x1: hi[0], y1: y - 9, x2: hi[0], y2: y + 9 }, style: { stroke: NAVY, lineWidth: 5, lineCap: 'round' } },
      { type: 'rect', shape: { x: p[0] - 10, y: y - 9.5, width: 20, height: 19 }, style: { fill: '#E5262A' } },
      textEl(coxGenes[i], 100.6, y, 28, 'left'),
      textEl(coxP[i], 334, y, 28, 'right'),
      textEl(coxHR[i].toFixed(3) + ' (' + coxLo[i].toFixed(3) + '-' + coxHi[i].toFixed(3) + ')', 663.4, y, 28, 'right')
    ] };
  },
  markLine: { silent: true, symbol: 'none', label: { show: false },
    lineStyle: { color: '#000', width: 4.5, type: [22, 26] }, data: [{ xAxis: 1 }] } });

// ----- D -----
S.push({ type: 'custom', xAxisIndex: 3, yAxisIndex: 3, silent: true,
  data: logLambda.map((x, i) => [x, cvMean[i], cvSd[i]]),
  renderItem: (params, api) => {
    const x = api.value(0), m = api.value(1), s = api.value(2);
    const top = api.coord([x, m + s]);
    const bot = api.coord([x, m - s]);
    const st = () => ({ stroke: '#A6A6A6', lineWidth: 2.5 });
    return { type: 'group', children: [
      { type: 'line', shape: { x1: top[0], y1: top[1], x2: bot[0], y2: bot[1] }, style: st() },
      { type: 'line', shape: { x1: top[0] - 5.5, y1: top[1], x2: top[0] + 5.5, y2: top[1] }, style: st() },
      { type: 'line', shape: { x1: bot[0] - 5.5, y1: bot[1], x2: bot[0] + 5.5, y2: bot[1] }, style: st() }
    ] };
  } });
S.push({ type: 'scatter', xAxisIndex: 3, yAxisIndex: 3, symbolSize: 9, itemStyle: { color: '#FF0000' }, silent: true,
  data: logLambda.map((x, i) => [x, cvMean[i]]), z: 3,
  markLine: { silent: true, symbol: 'none', label: { show: false },
    lineStyle: { color: '#000', width: 3, type: [14, 9] },
    data: [{ xAxis: lambdaMinLog }, { xAxis: lambda1seLog }] } });

// ----- E -----
const coefPaths = [coef1, coef2, coef3, coef4, coef5, coef6, coef7, coef8, coef9];
coefPaths.forEach((path, k) => {
  S.push({ type: 'line', xAxisIndex: 5, yAxisIndex: 4, data: path, showSymbol: false, smooth: 0.3, silent: true,
    lineStyle: { color: GLM_COLS[k % 6], width: 3 }, itemStyle: { color: GLM_COLS[k % 6] } });
});
S.push({ type: 'scatter', xAxisIndex: 5, yAxisIndex: 4, symbolSize: 1, itemStyle: { color: 'rgba(0,0,0,0)' }, silent: true,
  data: coefPaths.map((p, k) => [p[0][0], p[0][1], String(k + 1)]),
  label: { show: true, position: 'left', distance: 9, fontSize: 11, color: '#333', fontFamily: FONT,
    formatter: p => p.value[2] } });

// ----- F / G -----
function kmSeries(xi, yi, name, data, color) {
  return { type: 'line', name: name, xAxisIndex: xi, yAxisIndex: yi, data: data, step: 'end', showSymbol: false,
    silent: true, lineStyle: { color: color, width: 5 }, itemStyle: { color: color } };
}
function censorSeries(xi, yi, data, color) {
  return { type: 'scatter', xAxisIndex: xi, yAxisIndex: yi, data: data, symbol: 'rect', symbolSize: [3, 13],
    silent: true, itemStyle: { color: color } };
}
function riskTable(xi, yi, times, high, low, xMin) {
  const rows = times.map((t, i) => [t, 0, high[i]]).concat(times.map((t, i) => [t, 1, low[i]]));
  const groupRows = riskGroups.map((g, r) => [xMin, r, -1]);
  return { type: 'custom', xAxisIndex: xi, yAxisIndex: yi, silent: true, clip: false, data: rows.concat(groupRows),
    renderItem: (params, api) => {
      const p = api.coord([api.value(0), api.value(1)]);
      if (api.value(2) < 0) {
        const r = api.value(1);
        return textEl(riskGroups[r], p[0] - 15, p[1], 28, 'right', r === 0 ? KM_RED : KM_BLUE);
      }
      return textEl(String(api.value(2)), p[0], p[1], 27, 'center');
    } };
}
S.push(kmSeries(7, 5, 'High risk', kmTcgaHigh, KM_RED));
S.push(kmSeries(7, 5, 'Low risk', kmTcgaLow, KM_BLUE));
S.push(censorSeries(7, 5, censorTcgaHigh, KM_RED));
S.push(censorSeries(7, 5, censorTcgaLow, KM_BLUE));
S.push(riskTable(8, 6, riskTimesTcga, riskHighTcga, riskLowTcga, -0.5));
S.push(kmSeries(9, 7, 'High risk', kmGseHigh, KM_RED));
S.push(kmSeries(9, 7, 'Low risk', kmGseLow, KM_BLUE));
S.push(censorSeries(9, 7, censorGseHigh, KM_RED));
S.push(censorSeries(9, 7, censorGseLow, KM_BLUE));
S.push(riskTable(10, 8, riskTimesGse, riskHighGse, riskLowGse, -0.6));

// ----- static text: panel letters, titles, axis titles -----
const R90 = Math.PI / 2;
option.graphic = { elements: [
  txt('A', 45, 34, 44), txt('B', 1058, 30, 44), txt('C', 48, 732, 44), txt('D', 1054, 734, 44),
  txt('E', 51, 1554, 44), txt('F', 1053, 1428, 44), txt('G', 1060, 1925, 44),
  txt('Group', 243.6, 40, 28, { align: 'left' }),
  txt('Group', 1279, 27.5, 28, { align: 'left' }),
  txt('Gene expression', 24, 300, 28, { rot: R90 }),
  txt('Gene expression', 1043, 345, 28, { rot: R90 }),
  txt('P-value', 309, 746, 28), txt('Hazard ratio', 548, 746, 28), txt('Hazard ratio', 800, 1426, 28),
  txt('Partial likelihood deviance', 1191, 1029, 28, { rot: R90 }),
  txt('Log (\u03bb)', 1603, 1373, 28),
  txt('Coefficients', 77, 1920, 32, { rot: R90 }),
  txt('Log \u03bb', 491, 2252, 30),
  txt('TCGA', 1586, 1428, 32),
  txt('Risk', 1391, 1474, 28, { align: 'left' }),
  txt('Overall survival', 1150, 1577, 28, { rot: R90 }),
  txt('p < 0.001', 1279, 1659, 28, { align: 'left' }),
  txt('Time (years)', 1534, 1761, 28),
  txt('Risk', 1107, 1798, 27, { rot: R90 }),
  txt('Time (years)', 1521, 1878, 28),
  txt('GSE84437', 1538, 1924, 32),
  txt('Risk', 1391, 1967, 28, { align: 'left' }),
  txt('Overall survival', 1157, 2060, 28, { rot: R90 }),
  txt('p = 0.042', 1273, 2134, 28, { align: 'left' }),
  txt('Time (years)', 1532, 2240, 28),
  txt('Risk', 1107, 2282, 27, { rot: R90 }),
  txt('Time (years)', 1522, 2350, 28)
] };

chart.setOption(option);
</script>
</body>
</html>
